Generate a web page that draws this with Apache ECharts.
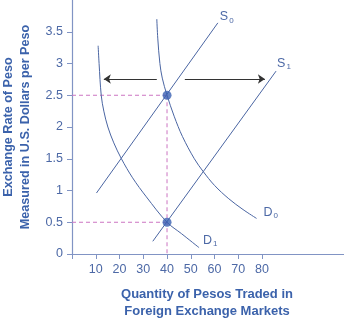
<!DOCTYPE html>
<html>
<head>
<meta charset="utf-8">
<script src="https://cdn.jsdelivr.net/npm/echarts@6/dist/echarts.min.js"></script>
<style>
html,body{margin:0;padding:0;background:#fff;}
#c{width:344px;height:320px;}
</style>
</head>
<body>
<div id="c"></div>
<script>
// ---- data ----
const xTickValues = [0, 10, 20, 30, 40, 50, 60, 70, 80];
const xLabelValues = [10, 20, 30, 40, 50, 60, 70, 80];
const yTickValues = [0, 0.5, 1, 1.5, 2, 2.5, 3, 3.5];
const xTitle = 'Quantity of Pesos Traded in\nForeign Exchange Markets';
const yTitle = 'Exchange Rate of Peso\nMeasured in U.S. Dollars per Peso';
const supplyS0 = [[10.3, 0.96], [61.4, 3.64]];
const supplyS1 = [[34.0, 0.2], [85.9, 2.88]];
const demandD0 = [[35.7, 3.7], [36.1, 3.4], [37.0, 3.0], [38.0, 2.77], [40, 2.5], [43, 2.17], [46.5, 1.85], [51.5, 1.5], [55.2, 1.3], [60, 1.08], [66, 0.87], [72, 0.7], [77.7, 0.56]];
const demandD1 = [[11.0, 3.28], [11.4, 3.0], [12.3, 2.5], [13.4, 2.25], [15.1, 2.0], [17.6, 1.75], [20.8, 1.5], [25.5, 1.2], [31.3, 0.9], [40, 0.5], [46.1, 0.32], [53.5, 0.1]];
const equilibria = [[40, 2.5], [40, 0.5]];
const guideHigh = [[0, 2.5], [40, 2.5]];
const guideLow = [[0, 0.5], [40, 0.5]];
const guideVertical = [[40, 2.5], [40, 0]];
const shiftArrows = [
  [[35.7, 2.756], [13.4, 2.756]],
  [[47.5, 2.756], [81.2, 2.756]]
];
const curveLabels = { S0: ['S', '0'], S1: ['S', '1'], D0: ['D', '0'], D1: ['D', '1'] };

// ---- styles ----
const curveColor = '#4a65a2';
const textColor = '#4d69a6';
const titleColor = '#3b62ab';
const axisColor = '#8194c4';
const guideColor = '#cc74c2';
const FONT = 'Liberation Sans, Arial, sans-serif';

const rich = {
  m: { fontSize: 12.5, color: textColor, fontFamily: FONT },
  s: { fontSize: 8, color: textColor, fontFamily: FONT, padding: [7, 0, 0, 1] }
};
function endLabel(key, offset) {
  const p = curveLabels[key];
  return {
    show: true,
    formatter: '{m|' + p[0] + '}{s|' + p[1] + '}',
    rich: rich,
    distance: 2,
    offset: offset
  };
}
function curve(name, data, key, offset, smooth) {
  return {
    type: 'line', name: name, data: data, showSymbol: false, symbol: 'none',
    smooth: smooth, silent: true, animation: false,
    lineStyle: { color: curveColor, width: 1 },
    endLabel: endLabel(key, offset),
    z: 3
  };
}
function guide(data) {
  return {
    type: 'line', data: data, showSymbol: false, symbol: 'none', silent: true, animation: false, z: 1,
    lineStyle: { color: guideColor, width: 1, type: [4, 3] }
  };
}

const chart = echarts.init(document.getElementById('c'), null, { renderer: 'canvas' });
chart.setOption({
  animation: false,
  grid: { left: 72, top: 0, right: 0, bottom: 66, containLabel: false },
  xAxis: {
    type: 'value', min: 0, max: 114.5,
    axisLine: { show: true, lineStyle: { color: axisColor, width: 1.2 } },
    axisTick: { show: true, length: 5, lineStyle: { color: axisColor }, customValues: xTickValues },
    axisLabel: { color: textColor, fontSize: 12.5, fontFamily: FONT, margin: 9, customValues: xLabelValues },
    splitLine: { show: false }
  },
  yAxis: {
    type: 'value', min: 0, max: 4,
    axisLine: { show: true, lineStyle: { color: axisColor, width: 1.2 } },
    axisTick: { show: true, length: 5, lineStyle: { color: axisColor }, customValues: yTickValues },
    axisLabel: { color: textColor, fontSize: 12.5, fontFamily: FONT, margin: 9, customValues: yTickValues },
    splitLine: { show: false }
  },
  graphic: [
    {
      type: 'text', x: 207, y: 303,
      style: { text: xTitle, fill: titleColor, font: 'bold 13px ' + FONT, align: 'center', verticalAlign: 'middle', lineHeight: 16.5 }
    },
    {
      type: 'text', x: 17, y: 127, rotation: Math.PI / 2,
      style: { text: yTitle, fill: titleColor, font: 'bold 12.6px ' + FONT, align: 'center', verticalAlign: 'middle', lineHeight: 17.5 }
    }
  ],
  series: [
    guide(guideHigh),
    guide(guideLow),
    guide(guideVertical),
    {
      type: 'lines', coordinateSystem: 'cartesian2d', silent: true, animation: false, z: 2,
      symbol: ['none', 'arrow'], symbolSize: [5, 7],
      lineStyle: { color: '#333333', width: 1, opacity: 1 },
      itemStyle: { color: '#222222' },
      data: shiftArrows.map(c => ({ coords: c }))
    },
    curve('S0', supplyS0, 'S0', [0, -6], false),
    curve('S1', supplyS1, 'S1', [-1, -8], false),
    curve('D0', demandD0, 'D0', [5, -6], 0.35),
    curve('D1', demandD1, 'D1', [2, -7], 0.35),
    {
      type: 'scatter', data: equilibria, symbolSize: 9, silent: true, animation: false, z: 5,
      itemStyle: { color: '#3b62b3' }
    }
  ]
});
</script>
</body>
</html>
